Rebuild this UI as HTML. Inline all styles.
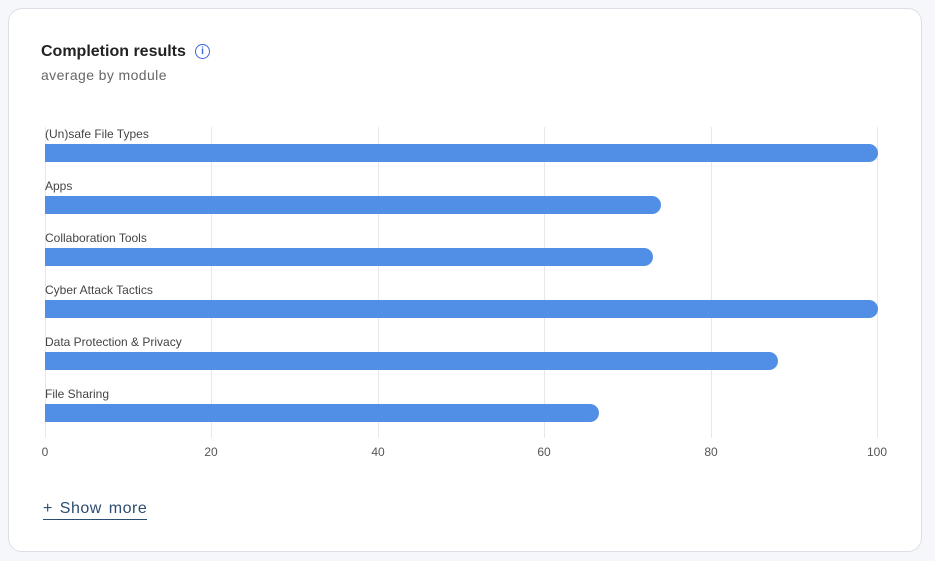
<!DOCTYPE html>
<html><head><style>
body{margin:0;width:935px;height:561px;background:#f6f7fa;font-family:"Liberation Sans",sans-serif;position:relative;overflow:hidden}
.card{position:absolute;left:8px;top:8px;width:912px;height:542px;background:#fff;border:1px solid #dcdfe5;border-radius:14px}
.t{position:absolute;left:41px;top:43px;font-size:16px;font-weight:bold;color:#222}
.s{position:absolute;left:41px;top:67px;font-size:14px;color:#666;letter-spacing:0.4px}
.i{position:absolute;left:195px;top:44px;width:13px;height:13px;border:1.3px solid #3a63e0;border-radius:50%;color:#3a63e0;font-size:10px;font-weight:bold;text-align:center;line-height:13px}
.g{position:absolute;top:127px;height:311px;width:1px;background:#e8e8e8}
.lb{position:absolute;left:45px;font-size:12px;color:#444}
.b{position:absolute;left:45px;height:18px;background:#518ee6;border-radius:0 9px 9px 0}
.tk{position:absolute;top:445px;font-size:12px;color:#555;width:40px;text-align:center}
.sm{position:absolute;left:43px;top:500px;font-size:16px;color:#2c4c70;border-bottom:1.5px solid #2c4c70;padding-bottom:1px;line-height:18px;letter-spacing:0.5px;word-spacing:2px}
</style></head><body>
<div class="card"></div>
<div class="t">Completion results</div><div class="i">i</div>
<div class="s">average by module</div>
<div class="g" style="left:45px"></div><div class="g" style="left:211px"></div><div class="g" style="left:378px"></div><div class="g" style="left:544px"></div><div class="g" style="left:711px"></div><div class="g" style="left:877px"></div>
<div class="lb" style="top:127px">(Un)safe File Types</div><div class="b" style="top:144px;width:833px"></div>
<div class="lb" style="top:179px">Apps</div><div class="b" style="top:196px;width:616px"></div>
<div class="lb" style="top:231px">Collaboration Tools</div><div class="b" style="top:248px;width:608px"></div>
<div class="lb" style="top:283px">Cyber Attack Tactics</div><div class="b" style="top:300px;width:833px"></div>
<div class="lb" style="top:335px">Data Protection &amp; Privacy</div><div class="b" style="top:352px;width:733px"></div>
<div class="lb" style="top:387px">File Sharing</div><div class="b" style="top:404px;width:554px"></div>
<div class="tk" style="left:25px">0</div><div class="tk" style="left:191px">20</div><div class="tk" style="left:358px">40</div><div class="tk" style="left:524px">60</div><div class="tk" style="left:691px">80</div><div class="tk" style="left:857px">100</div>
<div class="sm">+ Show more</div>
</body></html>
